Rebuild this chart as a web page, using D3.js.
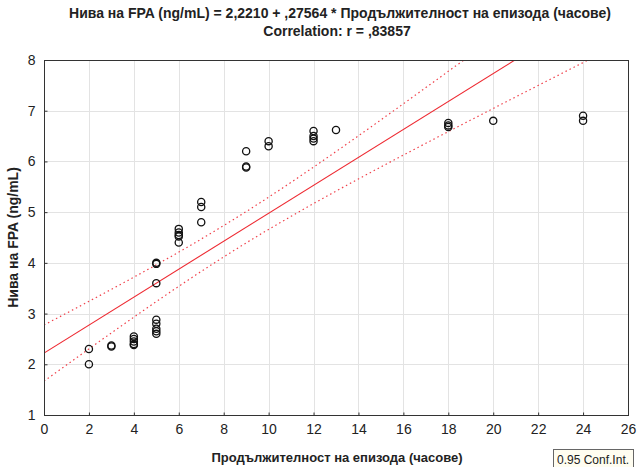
<!DOCTYPE html>
<html>
<head>
<meta charset="utf-8">
<script src="https://cdn.jsdelivr.net/npm/d3@7"></script>
<style>
  html, body { margin: 0; padding: 0; background: #ffffff; }
  svg { display: block; }
</style>
</head>
<body>
<script>
// Episode duration (hours) and FPA level (ng/mL) for each observation
const durationHours = [
  2, 2,
  3, 3,
  4, 4, 4, 4, 4,
  5, 5, 5, 5, 5, 5, 5, 5,
  6, 6, 6, 6, 6,
  7, 7, 7,
  9, 9, 9,
  10, 10,
  12, 12, 12, 12,
  13,
  18, 18, 18,
  20,
  24, 24
];
const fpaLevel = [
  2.30, 2.00,
  2.35, 2.37,
  2.55, 2.50, 2.45, 2.40, 2.38,
  2.88, 2.80, 2.70, 2.65, 2.60, 3.60, 3.98, 4.00,
  4.67, 4.60, 4.55, 4.52, 4.40,
  5.20, 5.10, 4.80,
  6.20, 5.90, 5.88,
  6.40, 6.30,
  6.60, 6.50, 6.45, 6.40,
  6.62,
  6.76, 6.71, 6.68,
  6.80,
  6.90, 6.80
];

// Fitted regression: FPA = intercept + slope * duration
const intercept = 2.2210;
const slope = 0.27564;
const correlation = ",83857";
const confLevel = 0.95;

const xTicks = [0, 2, 4, 6, 8, 10, 12, 14, 16, 18, 20, 22, 24, 26];
const yTicks = [1, 2, 3, 4, 5, 6, 7, 8];

const titleLine1 = "Нива на FPA (ng/mL) = 2,2210 + ,27564 * Продължителност на епизода (часове)";
const titleLine2 = "Correlation: r = " + correlation;
const xLabel = "Продължителност на епизода (часове)";
const yLabel = "Нива на FPA (ng/mL)";
const legendText = "0.95 Conf.Int.";

const W = 640, H = 467;
const m = { left: 44, right: 12, top: 60, bottom: 52 };
const pw = W - m.left - m.right, ph = H - m.top - m.bottom;

const svg = d3.select("body").append("svg")
  .attr("width", W).attr("height", H);

const x = d3.scaleLinear().domain([0, 26]).range([m.left, m.left + pw]);
const y = d3.scaleLinear().domain([1, 8]).range([m.top + ph, m.top]);

// Gridlines
const grid = svg.append("g").attr("stroke", "#e3e3e3").attr("stroke-width", 1);
grid.selectAll("line.gx").data(xTicks.slice(1, -1)).join("line")
  .attr("x1", d => Math.round(x(d)) + 0.5).attr("x2", d => Math.round(x(d)) + 0.5)
  .attr("y1", m.top).attr("y2", m.top + ph);
grid.selectAll("line.gy").data(yTicks.slice(1, -1)).join("line")
  .attr("y1", d => Math.round(y(d)) + 0.5).attr("y2", d => Math.round(y(d)) + 0.5)
  .attr("x1", m.left).attr("x2", m.left + pw);

// Confidence band for the mean response, from the residuals about the fitted line
const n = durationHours.length;
const xMean = d3.mean(durationHours);
const sxx = d3.sum(durationHours, v => (v - xMean) * (v - xMean));
const sse = d3.sum(durationHours, (v, i) => {
  const r = fpaLevel[i] - (intercept + slope * v);
  return r * r;
});
const s = Math.sqrt(sse / (n - 2));
const tCrit = 2.0227; // two-sided 95%, df = 39
const halfWidth = xv => tCrit * s * Math.sqrt(1 / n + (xv - xMean) * (xv - xMean) / sxx);

const xs = d3.range(0, 26.001, 0.25);
const fit = xv => intercept + slope * xv;

svg.append("defs").append("clipPath").attr("id", "plotClip")
  .append("rect").attr("x", m.left).attr("y", m.top).attr("width", pw).attr("height", ph);

const lineGen = d3.line().x(d => x(d[0])).y(d => y(d[1]));
const lines = svg.append("g").attr("clip-path", "url(#plotClip)").attr("fill", "none");

lines.append("path")
  .attr("d", lineGen(xs.map(v => [v, fit(v) + halfWidth(v)])))
  .attr("stroke", "#f0404a").attr("stroke-width", 1.2).attr("stroke-dasharray", "1.5,3");
lines.append("path")
  .attr("d", lineGen(xs.map(v => [v, fit(v) - halfWidth(v)])))
  .attr("stroke", "#f0404a").attr("stroke-width", 1.2).attr("stroke-dasharray", "1.5,3");
lines.append("path")
  .attr("d", lineGen([[0, fit(0)], [26, fit(26)]]))
  .attr("stroke", "#ee2a32").attr("stroke-width", 1.1);

// Observations
svg.append("g").selectAll("circle").data(durationHours).join("circle")
  .attr("cx", (d) => x(d))
  .attr("cy", (d, i) => y(fpaLevel[i]))
  .attr("r", 3.6)
  .attr("fill", "none")
  .attr("stroke", "#111")
  .attr("stroke-width", 1.3);

// Frame
svg.append("rect")
  .attr("x", m.left + 0.5).attr("y", m.top + 0.5)
  .attr("width", pw).attr("height", ph)
  .attr("fill", "none").attr("stroke", "#333").attr("stroke-width", 1);

// Axes
const xAxis = d3.axisBottom(x).tickValues(xTicks).tickSize(-3).tickPadding(9)
  .tickFormat(d3.format("d"));
const gx = svg.append("g").attr("transform", `translate(0,${m.top + ph + 0.5})`).call(xAxis);
const yAxis = d3.axisLeft(y).tickValues(yTicks).tickSize(-3).tickPadding(9)
  .tickFormat(d3.format("d"));
const gy = svg.append("g").attr("transform", `translate(${m.left + 0.5},0)`).call(yAxis);
[gx, gy].forEach(g => {
  g.select(".domain").remove();
  g.selectAll(".tick line").attr("stroke", "#333");
  g.selectAll(".tick text")
    .attr("font-family", "'Liberation Sans', Arial, sans-serif")
    .attr("font-size", 14).attr("fill", "#222");
});

// Titles
const boldFont = "'Liberation Sans Narrow', 'Arial Narrow', 'Liberation Sans', sans-serif";
svg.append("text").attr("x", 340).attr("y", 18).attr("text-anchor", "middle")
  .attr("font-family", boldFont).attr("font-weight", "bold").attr("font-size", 14)
  .attr("fill", "#222").text(titleLine1);
svg.append("text").attr("x", 337).attr("y", 36).attr("text-anchor", "middle")
  .attr("font-family", boldFont).attr("font-weight", "bold").attr("font-size", 14)
  .attr("fill", "#222").text(titleLine2);
svg.append("text").attr("x", 337).attr("y", 462).attr("text-anchor", "middle")
  .attr("font-family", boldFont).attr("font-weight", "bold").attr("font-size", 13)
  .attr("fill", "#222").text(xLabel);
svg.append("text")
  .attr("transform", `translate(18,${m.top + ph / 2}) rotate(-90)`)
  .attr("text-anchor", "middle")
  .attr("font-family", boldFont).attr("font-weight", "bold").attr("font-size", 14)
  .attr("fill", "#222").text(yLabel);

// Legend box
const lg = svg.append("g").attr("transform", "translate(553,449)");
lg.append("rect").attr("x", 0.5).attr("y", 0.5).attr("width", 80).attr("height", 20)
  .attr("fill", "#fffdf0").attr("stroke", "#666").attr("stroke-width", 1);
lg.append("text").attr("x", 4).attr("y", 15)
  .attr("font-family", "'Liberation Sans', Arial, sans-serif").attr("font-size", 12)
  .attr("fill", "#222").text(legendText);
</script>
</body>
</html>
